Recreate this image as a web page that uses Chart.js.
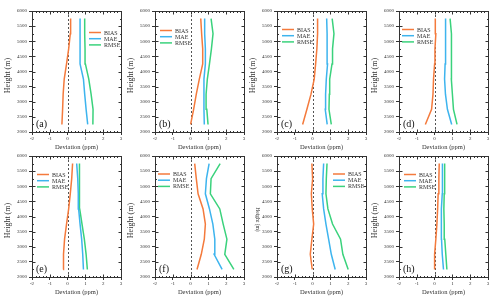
<!DOCTYPE html>
<html lang="en">
<head>
<meta charset="UTF-8">
<title>Deviation profiles</title>
<script src="https://cdn.jsdelivr.net/npm/chart.js"></script>
<style>
    body { margin: 0; background: #fff; width: 500px; height: 301px; position: relative; overflow: hidden; }
    canvas { position: absolute; }
</style>
</head>
<body>
<canvas id="pa" width="125" height="150"></canvas>
<canvas id="pb" width="125" height="150"></canvas>
<canvas id="pc" width="125" height="150"></canvas>
<canvas id="pd" width="125" height="150"></canvas>
<canvas id="pe" width="125" height="150"></canvas>
<canvas id="pf" width="125" height="150"></canvas>
<canvas id="pg" width="125" height="150"></canvas>
<canvas id="ph" width="125" height="150"></canvas>
<script>
    // heights (m) of each profile level, bottom to top
    const heights = [2250, 2750, 3250, 3750, 4250, 4750, 5250, 5750];
    const xTicks = [-2, -1, 0, 1, 2, 3];
    const yTicks = [2000, 2500, 3000, 3500, 4000, 4500, 5000, 5500, 6000];
    const seriesNames = ['BIAS', 'MAE', 'RMSE'];

    const biasA = [-0.32, -0.28, -0.25, -0.19, -0.06, 0.06, 0.15, 0.17];
    const maeA  = [1.13, 1.04, 0.96, 0.89, 0.70, 0.70, 0.70, 0.70];
    const rmseA = [1.42, 1.43, 1.32, 1.19, 1.00, 0.98, 0.96, 0.96];

    const biasB = [0.00, 0.17, 0.32, 0.49, 0.68, 0.68, 0.62, 0.57];
    const maeB  = [0.77, 0.75, 0.75, 0.75, 0.83, 0.83, 0.79, 0.79];
    const rmseB = [0.98, 0.91, 0.87, 0.94, 1.06, 1.17, 1.26, 1.15];

    const biasC = [-0.56, -0.32, -0.09, 0.09, 0.17, 0.24, 0.28, 0.28];
    const maeC  = [0.82, 0.71, 0.73, 0.77, 0.84, 0.82, 0.81, 0.79];
    const rmseC = [1.05, 0.92, 0.94, 0.96, 1.09, 1.12, 1.20, 1.10];

    const biasD = [-0.52, -0.17, -0.09, -0.06, 0.00, 0.02, 0.07, 0.04];
    const maeD  = [0.96, 0.72, 0.61, 0.56, 0.59, 0.61, 0.63, 0.61];
    const rmseD = [1.26, 1.06, 1.00, 0.94, 0.94, 0.96, 0.94, 0.87];

    const biasE = [-0.25, -0.23, -0.17, -0.06, 0.06, 0.15, 0.23, 0.28];
    const maeE  = [0.89, 0.85, 0.79, 0.70, 0.62, 0.60, 0.57, 0.51];
    const rmseE = [1.11, 1.04, 0.94, 0.81, 0.68, 0.68, 0.66, 0.66];

    const biasF = [0.36, 0.60, 0.77, 0.83, 0.70, 0.42, 0.32, 0.23];
    const maeF  = [1.77, 1.32, 1.36, 1.25, 1.06, 0.83, 0.89, 1.04];
    const rmseF = [2.43, 1.92, 2.04, 1.83, 1.64, 1.11, 1.15, 1.66];

    const biasG = [-0.02, -0.13, -0.04, 0.06, -0.02, -0.07, 0.00, -0.04];
    const maeG  = [1.27, 1.05, 0.90, 0.75, 0.62, 0.54, 0.58, 0.62];
    const rmseG = [2.00, 1.70, 1.57, 1.12, 0.86, 0.75, 0.77, 0.81];

    const biasH = [0.00, 0.00, 0.07, 0.13, 0.17, 0.20, 0.24, 0.26];
    const maeH  = [0.50, 0.43, 0.39, 0.37, 0.39, 0.43, 0.44, 0.44];
    const rmseH = [0.69, 0.63, 0.57, 0.54, 0.52, 0.54, 0.56, 0.57];

    const colors = ['#f47a3c', '#3db4ee', '#3ad27c'];
    const serif = "'Liberation Serif', 'DejaVu Serif', serif";
    const ink = '#333';

    // where each panel sits and where its legend goes (offset from plot corner)
    const panels = [
        { id: 'pa', tag: '(a)', left: 0,   top: 1,   legend: [57, 21.5], series: [biasA, maeA, rmseA] },
        { id: 'pb', tag: '(b)', left: 123, top: 1,   legend: [5, 19.5],  series: [biasB, maeB, rmseB] },
        { id: 'pc', tag: '(c)', left: 245, top: 1,   legend: [5, 18.5],  series: [biasC, maeC, rmseC] },
        { id: 'pd', tag: '(d)', left: 367, top: 1,   legend: [3, 18.5],  series: [biasD, maeD, rmseD] },
        { id: 'pe', tag: '(e)', left: 0,   top: 146, legend: [5, 18.5],  series: [biasE, maeE, rmseE] },
        { id: 'pf', tag: '(f)', left: 123, top: 146, legend: [3, 18],    series: [biasF, maeF, rmseF] },
        { id: 'pg', tag: '(g)', left: 245, top: 146, legend: [56, 18],   series: [biasG, maeG, rmseG], flipTitle: true },
        { id: 'ph', tag: '(h)', left: 367, top: 146, legend: [5, 18.5],  series: [biasH, maeH, rmseH] }
    ];

    const decor = {
        id: 'decor',
        beforeDatasetsDraw(chart) {
            const { ctx, chartArea: a, scales: { x } } = chart;
            const x0 = Math.round(x.getPixelForValue(0)) + 0.5;
            ctx.save();
            ctx.strokeStyle = '#555';
            ctx.lineWidth = 1;
            ctx.setLineDash([2, 2]);
            ctx.beginPath();
            ctx.moveTo(x0, a.top);
            ctx.lineTo(x0, a.bottom);
            ctx.stroke();
            ctx.restore();
        },
        afterDraw(chart, args, o) {
            const { ctx, chartArea: a, scales: { x, y } } = chart;
            const L = Math.round(a.left) + 0.5, R = Math.round(a.right) + 0.5;
            const T = Math.round(a.top) + 0.5, B = Math.round(a.bottom) + 0.5;
            ctx.save();
            ctx.strokeStyle = ink;
            ctx.lineWidth = 1;
            ctx.strokeRect(L, T, R - L, B - T);

            // small inward ticks on all four sides
            ctx.beginPath();
            for (let i = 0; i <= 25; i++) {
                const v = -2 + i * 0.2;
                const px = Math.round(x.getPixelForValue(v)) + 0.5;
                const len = i % 5 === 0 ? 3 : 1.5;
                ctx.moveTo(px, B); ctx.lineTo(px, B - len);
                ctx.moveTo(px, T); ctx.lineTo(px, T + len);
            }
            for (let i = 0; i <= 16; i++) {
                const v = 2000 + i * 250;
                const py = Math.round(y.getPixelForValue(v)) + 0.5;
                const len = i % 2 === 0 ? 3 : 1.5;
                ctx.moveTo(L, py); ctx.lineTo(L + len, py);
                ctx.moveTo(R, py); ctx.lineTo(R - len, py);
            }
            ctx.stroke();

            // legend
            ctx.font = '6px ' + serif;
            ctx.textAlign = 'left';
            ctx.textBaseline = 'middle';
            chart.data.datasets.forEach((ds, i) => {
                const ly = a.top + o.legend[1] + i * 6.2;
                const lx = a.left + o.legend[0];
                ctx.strokeStyle = ds.borderColor;
                ctx.lineWidth = 1.5;
                ctx.beginPath();
                ctx.moveTo(lx, ly);
                ctx.lineTo(lx + 12, ly);
                ctx.stroke();
                ctx.fillStyle = ink;
                ctx.fillText(ds.label, lx + 15, ly + 0.5);
            });

            // panel tag
            ctx.font = '10px ' + serif;
            ctx.fillStyle = '#111';
            ctx.fillText(o.tag, a.left + 4, a.bottom - 8);

            // axis titles
            ctx.textAlign = 'center';
            ctx.font = '6.5px ' + serif;
            ctx.fillStyle = ink;
            ctx.fillText('Deviation (ppm)', (a.left + a.right) / 2, a.bottom + 15);
            ctx.save();
            if (o.flipTitle) {
                ctx.translate(a.left - 20, (a.top + a.bottom) / 2 + 3);
                ctx.rotate(Math.PI / 2);
                ctx.font = '5.5px ' + serif;
            } else {
                ctx.translate(a.left - 24.5, (a.top + a.bottom) / 2 + 4);
                ctx.rotate(-Math.PI / 2);
                ctx.font = '8px ' + serif;
            }
            ctx.fillText('Height (m)', 0, 0);
            ctx.restore();
            ctx.restore();
        }
    };

    panels.forEach(p => {
        const canvas = document.getElementById(p.id);
        canvas.style.left = p.left + 'px';
        canvas.style.top = p.top + 'px';

        new Chart(canvas.getContext('2d'), {
            type: 'line',
            data: {
                datasets: p.series.map((vals, i) => ({
                    label: seriesNames[i],
                    data: vals.map((v, k) => ({ x: v, y: heights[k] })),
                    borderColor: colors[i],
                    borderWidth: 1.5,
                    pointRadius: 0,
                    tension: 0,
                    fill: false
                }))
            },
            options: {
                responsive: false,
                animation: false,
                layout: { padding: { left: 0, top: 10, right: 4, bottom: 0 } },
                plugins: {
                    legend: { display: false },
                    tooltip: { enabled: false },
                    decor: { legend: p.legend, tag: p.tag, flipTitle: !!p.flipTitle }
                },
                scales: {
                    x: {
                        type: 'linear',
                        min: -2,
                        max: 3,
                        afterBuildTicks: s => { s.ticks = xTicks.map(v => ({ value: v })); },
                        afterFit: s => { s.height = 19; },
                        grid: { drawOnChartArea: false, tickLength: 3, color: ink },
                        border: { color: ink },
                        ticks: {
                            font: { family: serif, size: 5 },
                            color: ink,
                            padding: 1,
                            maxRotation: 0,
                            autoSkip: false,
                            callback: v => String(v)
                        }
                    },
                    y: {
                        type: 'linear',
                        min: 2000,
                        max: 6000,
                        afterBuildTicks: s => { s.ticks = yTicks.map(v => ({ value: v })); },
                        afterFit: s => { s.width = 32; },
                        grid: { drawOnChartArea: false, tickLength: 3, color: ink },
                        border: { color: ink },
                        ticks: {
                            font: { family: serif, size: 5 },
                            color: ink,
                            padding: 2,
                            autoSkip: false,
                            callback: v => String(v)
                        }
                    }
                }
            },
            plugins: [decor]
        });
    });
</script>
</body>
</html>
